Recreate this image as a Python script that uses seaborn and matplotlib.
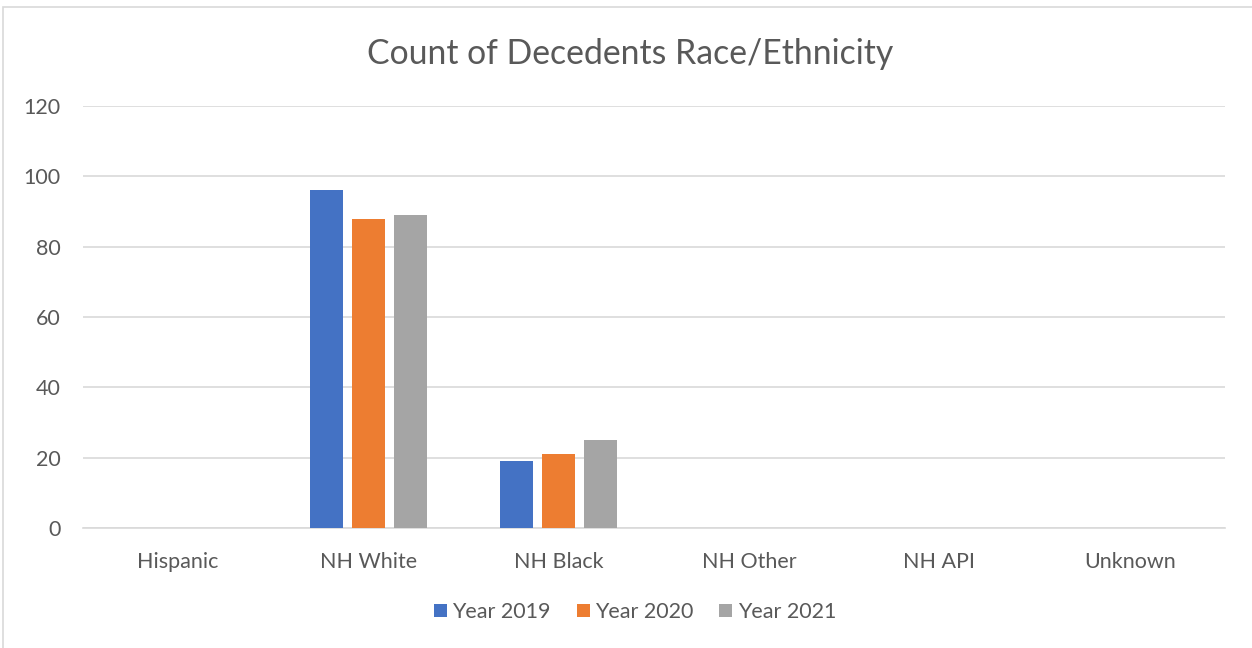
import matplotlib
matplotlib.use("Agg")
import matplotlib.pyplot as plt
from matplotlib.patches import Rectangle
import seaborn as sns
import pandas as pd

categories = ["Hispanic", "NH White", "NH Black", "NH Other", "NH API", "Unknown"]
years = ["Year 2019", "Year 2020", "Year 2021"]
counts_2019 = [0, 96, 19, 0, 0, 0]
counts_2020 = [0, 88, 21, 0, 0, 0]
counts_2021 = [0, 89, 25, 0, 0, 0]
y_ticks = [0, 20, 40, 60, 80, 100, 120]
colors = ["#4472C4", "#ED7D31", "#A5A5A5"]

df = pd.DataFrame({
    "Race": categories * 3,
    "Year": [y for y in years for _ in categories],
    "Count": counts_2019 + counts_2020 + counts_2021,
})

sns.set_theme(style="white")
plt.rcParams["font.family"] = ["Lato", "DejaVu Sans"]
text_color = "#595959"

fig = plt.figure(figsize=(12.52, 6.48), dpi=100)
ax = fig.add_axes([83 / 1252, 1 - 528 / 648, (1225 - 83) / 1252, (528 - 106) / 648])

sns.barplot(data=df, x="Race", y="Count", hue="Year", order=categories,
            hue_order=years, palette=colors, width=0.66, gap=0.21,
            saturation=1, linewidth=0, ax=ax, legend=True, zorder=3)

ax.set_ylim(0, 120)
ax.set_yticks(y_ticks)
ax.set_xlim(-0.5, len(categories) - 0.5)
ax.yaxis.grid(True, color="#D9D9D9", linewidth=1.2, zorder=0)
ax.set_axisbelow(True)
for s in ["top", "right", "left"]:
    ax.spines[s].set_visible(False)
ax.spines["bottom"].set_color("#D9D9D9")
ax.spines["bottom"].set_linewidth(1.2)
ax.set_xlabel("")
ax.set_ylabel("")
ax.tick_params(axis="both", length=0, labelsize=15.5, colors=text_color)
ax.tick_params(axis="x", pad=17)
ax.tick_params(axis="y", pad=16)

handles, labels = ax.get_legend_handles_labels()
ax.legend(handles, labels, loc="center", bbox_to_anchor=(635 / 1252, 1 - 612 / 648),
          bbox_transform=fig.transFigure, ncol=3, frameon=False, fontsize=15.5,
          labelcolor=text_color, handlelength=0.6, handleheight=0.6,
          handletextpad=0.25, columnspacing=1.2)

fig.text(630 / 1252, 1 - 54 / 648, "Count of Decedents Race/Ethnicity",
         ha="center", va="center", fontsize=24.3, color=text_color)

fig.patches.append(Rectangle((3 / 1252, -0.05), 1.1, 1 - 7 / 648 + 0.05,
                             transform=fig.transFigure, fill=False,
                             edgecolor="#D9D9D9", linewidth=1.2))

fig.savefig("out.png", dpi=100, facecolor="white")
